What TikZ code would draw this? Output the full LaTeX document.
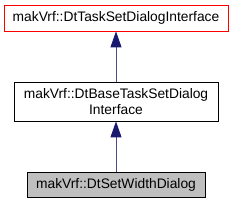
\documentclass[tikz,border=0pt]{standalone}
\usepackage{fontspec}
\setmainfont{Liberation Sans}
\usetikzlibrary{arrows.meta}
\definecolor{edgeblue}{HTML}{191970}
\definecolor{edgeline}{HTML}{4A4A8C}
\definecolor{boxgray}{HTML}{BFBFBF}
\tikzset{
  cls/.style={draw=black, fill=white, line width=0.8pt, align=center, inner sep=0pt, font=\fontsize{13.8}{16}\selectfont},
  inh/.style={draw=edgeline, line width=0.9pt, -{Triangle[length=16pt,width=11pt,color=edgeblue]}}
}
\begin{document}
\begin{tikzpicture}[x=1pt,y=1pt]
\useasboundingbox (0,0) rectangle (232,-203);
\node[cls, draw=red, minimum width=224pt, minimum height=26pt] (a) at (116,-18) {makVrf::DtTaskSetDialogInterface};
\node[cls, minimum width=204pt, minimum height=39pt] (b) at (116,-101.5) {makVrf::DtBaseTaskSetDialog\\Interface};
\node[cls, fill=boxgray, minimum width=178pt, minimum height=25pt] (c) at (116,-184.5) {makVrf::DtSetWidthDialog};
\draw[inh] (b) -- (a);
\draw[inh] (c) -- (b);
\end{tikzpicture}
\end{document}
